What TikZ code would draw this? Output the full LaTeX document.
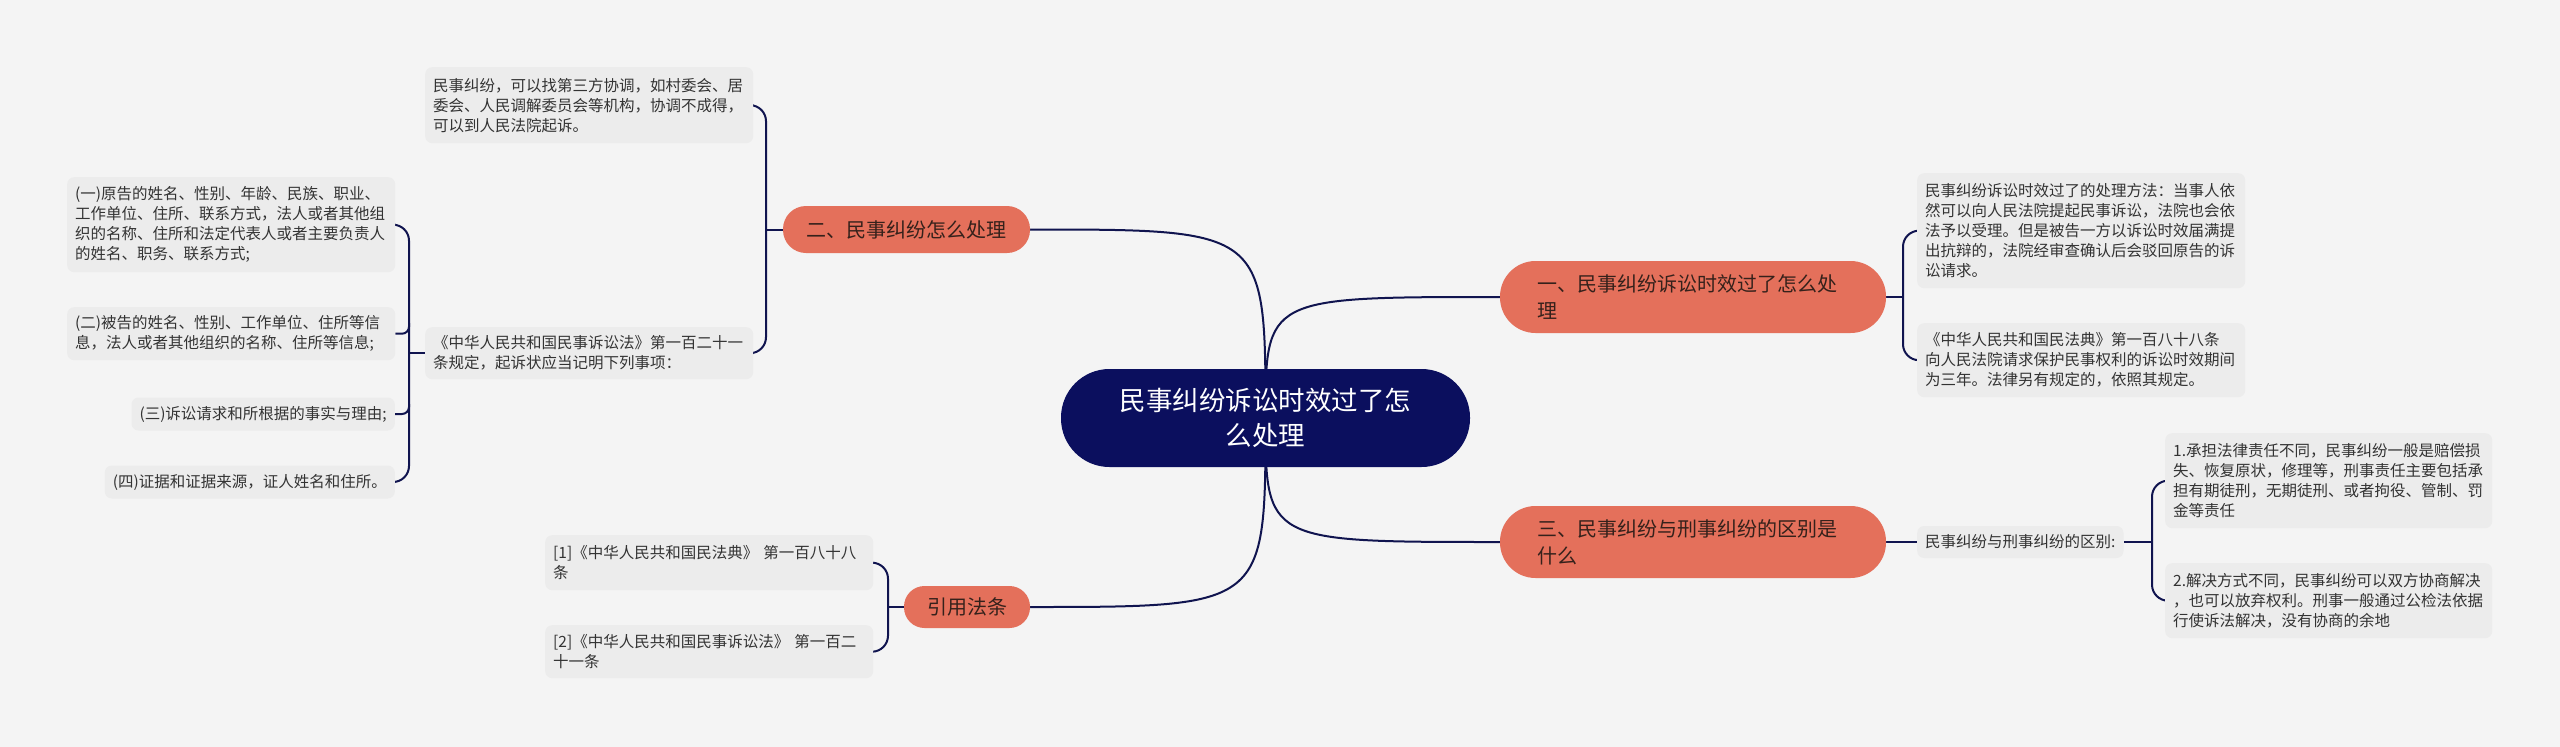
\documentclass[tikz,border=0pt]{standalone}
\usepackage{fontspec}
\setmainfont{Noto Sans CJK SC}
\definecolor{bgc}{HTML}{F4F4F4}
\definecolor{leafc}{HTML}{ECECEC}
\definecolor{orangec}{HTML}{E4705B}
\definecolor{navyc}{HTML}{0B0F5E}
\definecolor{linec}{HTML}{10144F}
\definecolor{btext}{HTML}{35211B}
\definecolor{ltext}{HTML}{333333}
\pgfdeclarelayer{bg}
\pgfsetlayers{bg,main}
\begin{document}
\begin{tikzpicture}[x=1pt,y=-1pt,
  leaf/.style={fill=leafc, rounded corners=7pt, inner xsep=8pt, inner ysep=0pt,
    align=left, text=ltext, font=\fontsize{15.5}{20}\selectfont, anchor=north west},
  branch/.style={fill=orangec, text=btext, font=\fontsize{20}{27}\selectfont, inner ysep=0pt},
  rootnode/.style={fill=navyc, text=white, font=\fontsize{26.5}{35}\selectfont,
    align=center, inner sep=0pt, minimum width=409pt, minimum height=98pt, rounded corners=48.5pt},
  conn/.style={draw=linec, line width=2pt},
  brk/.style={conn, rounded corners=16pt},
  tick/.style={conn, rounded corners=7pt}]
\useasboundingbox (0,0) rectangle (2560,747);

% root
\node[rootnode] (root) at (1265.5,418) {民事纠纷诉讼时效过了怎\\么处理};

% branches
\node[branch, align=left, text width=312pt, inner xsep=37pt, minimum height=72pt, rounded corners=35.5pt]
  (b1) at (1693,297) {一、民事纠纷诉讼时效过了怎么处\\理};
\node[branch, inner xsep=23.5pt, minimum height=47pt, rounded corners=23pt]
  (b2) at (906.5,229.5) {二、民事纠纷怎么处理};
\node[branch, align=left, text width=312pt, inner xsep=37pt, minimum height=72pt, rounded corners=35.5pt]
  (b3) at (1693,542) {三、民事纠纷与刑事纠纷的区别是\\什么};
\node[branch, inner xsep=23pt, minimum height=42pt, rounded corners=20.5pt]
  (b4) at (967,607) {引用法条};

% branch 二 leaves
\node[leaf, text width=312pt, minimum height=76pt] (l1) at (425,67)
  {民事纠纷，可以找第三方协调，如村委会、居\\委会、人民调解委员会等机构，协调不成得，\\可以到人民法院起诉。};
\node[leaf, text width=312pt, minimum height=52pt] (l2) at (425,327)
  {《中华人民共和国民事诉讼法》第一百二十一\\条规定，起诉状应当记明下列事项：};

\node[leaf, text width=312pt, minimum height=95pt] (c1) at (67,177)
  {(一)原告的姓名、性别、年龄、民族、职业、\\工作单位、住所、联系方式，法人或者其他组\\织的名称、住所和法定代表人或者主要负责人\\的姓名、职务、联系方式;};
\node[leaf, text width=312pt, minimum height=53pt] (c2) at (67,307)
  {(二)被告的姓名、性别、工作单位、住所等信\\息，法人或者其他组织的名称、住所等信息;};
\node[leaf, anchor=east, minimum height=33pt] (c3) at (395,414)
  {(三)诉讼请求和所根据的事实与理由;};
\node[leaf, anchor=east, minimum height=33pt] (c4) at (395,482)
  {(四)证据和证据来源，证人姓名和住所。};

% branch 一 leaves
\node[leaf, text width=312pt, minimum height=115pt] (r1) at (1917,173)
  {民事纠纷诉讼时效过了的处理方法：当事人依\\然可以向人民法院提起民事诉讼，法院也会依\\法予以受理。但是被告一方以诉讼时效届满提\\出抗辩的，法院经审查确认后会驳回原告的诉\\讼请求。};
\node[leaf, text width=312pt, minimum height=74pt] (r2) at (1917,323)
  {《中华人民共和国民法典》第一百八十八条\\向人民法院请求保护民事权利的诉讼时效期间\\为三年。法律另有规定的，依照其规定。};

% branch 三 leaves
\node[leaf, anchor=west, minimum height=32pt] (m) at (1917,542)
  {民事纠纷与刑事纠纷的区别:};
\node[leaf, text width=311pt, minimum height=95pt] (d1) at (2165,433)
  {1.承担法律责任不同，民事纠纷一般是赔偿损\\失、恢复原状，修理等，刑事责任主要包括承\\担有期徒刑，无期徒刑、或者拘役、管制、罚\\金等责任};
\node[leaf, text width=311pt, minimum height=75pt] (d2) at (2165,563)
  {2.解决方式不同，民事纠纷可以双方协商解决\\，也可以放弃权利。刑事一般通过公检法依据\\行使诉法解决，没有协商的余地};

% 引用法条 leaves
\node[leaf, text width=312pt, minimum height=55pt] (e1) at (545,535)
  {[1]《中华人民共和国民法典》 第一百八十八\\条};
\node[leaf, text width=312pt, minimum height=53pt] (e2) at (545,625)
  {[2]《中华人民共和国民事诉讼法》 第一百二\\十一条};

% bracket x positions
\coordinate (x2) at (766,0);
\coordinate (xl2) at (409,0);
\coordinate (x1) at (1903,0);
\coordinate (xm) at (2152,0);
\coordinate (x4) at (888,0);
\coordinate (c2t) at (409,323);
\coordinate (c3t) at (409,404);

\begin{pgfonlayer}{bg}
\fill[bgc] (0,0) rectangle (2560,747);
% root connectors
\draw[conn] (root.center) .. controls (root.center |- b1.west) .. (b1.west);
\draw[conn] (root.center) .. controls (root.center |- b2.east) .. (b2.east);
\draw[conn] (root.center) .. controls (root.center |- b3.west) .. (b3.west);
\draw[conn] (root.center) .. controls (root.center |- b4.east) .. (b4.east);
% 二
\draw[conn] (b2.west) -- (x2 |- b2.west);
\draw[brk] (l1.east) -- (x2 |- l1.east) -- (x2 |- l2.east) -- (l2.east);
% l2 children
\draw[conn] (l2.west) -- (xl2 |- l2.west);
\draw[brk] (c1.east) -- (xl2 |- c1.east) -- (xl2 |- c4.east) -- (c4.east);
\draw[tick] (c2t) -- (xl2 |- c2.east) -- (c2.east);
\draw[tick] (c3t) -- (xl2 |- c3.east) -- (c3.east);
% 一
\draw[conn] (b1.east) -- (x1 |- b1.east);
\draw[brk] (r1.west) -- (x1 |- r1.west) -- (x1 |- r2.west) -- (r2.west);
% 三
\draw[conn] (b3.east) -- (m.west);
\draw[conn] (m.east) -- (xm |- m.east);
\draw[brk] (d1.west) -- (xm |- d1.west) -- (xm |- d2.west) -- (d2.west);
% 引用法条
\draw[conn] (b4.west) -- (x4 |- b4.west);
\draw[brk] (e1.east) -- (x4 |- e1.east) -- (x4 |- e2.east) -- (e2.east);
\end{pgfonlayer}
\end{tikzpicture}
\end{document}
